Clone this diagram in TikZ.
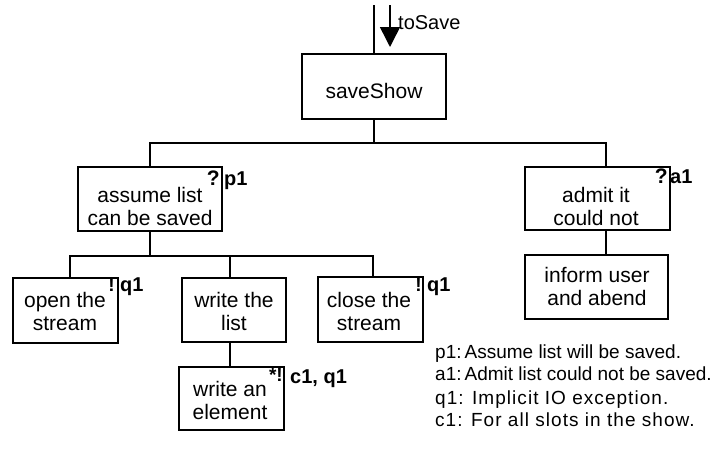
\documentclass[tikz,border=0pt]{standalone}
\usepackage{fontspec}
\setmainfont{Liberation Sans}
\usetikzlibrary{arrows.meta}
\begin{document}
\begin{tikzpicture}[x=1pt,y=-1pt,
  box/.style={draw, line width=2pt, inner sep=0pt},
  txt/.style={inner sep=0pt, align=center, font=\fontsize{21}{23}\selectfont},
  marker/.style={inner sep=0pt, anchor=base east, font=\fontsize{21}{21}\selectfont\bfseries},
  smallmarker/.style={inner sep=0pt, anchor=base east, font=\fontsize{19}{19}\selectfont\bfseries},
  tag/.style={inner sep=0pt, anchor=base west, font=\fontsize{20}{20}\selectfont\bfseries},
  wire/.style={line width=2pt},
  note/.style={inner sep=0pt, anchor=base west, font=\fontsize{19}{19}\selectfont},
  widenote/.style={note, font=\fontsize{19}{19}\selectfont\addfontfeature{LetterSpace=5.5}}]
\useasboundingbox (0,0) rectangle (719,461);

% boxes
\node[box, minimum width=144pt, minimum height=65pt] (save)   at (374,86.5) {};
\node[box, minimum width=144pt, minimum height=64pt] (assume) at (150,199) {};
\node[box, minimum width=145pt, minimum height=63pt] (admit)  at (597.5,198.5) {};
\node[box, minimum width=143pt, minimum height=64pt] (inform) at (596.5,287) {};
\node[box, minimum width=105pt, minimum height=65pt] (open)   at (65.5,310.5) {};
\node[box, minimum width=104pt, minimum height=64pt] (wlist)  at (234,310) {};
\node[box, minimum width=105pt, minimum height=65pt] (close)  at (370.5,309.5) {};
\node[box, minimum width=105pt, minimum height=63pt] (elem)   at (231.5,398.5) {};

% box texts
\node[txt] (tsave)   at (374,91)  {saveShow};
\node[txt] (tassume) at (150,206) {assume list\\can be saved};
\node[txt] (tadmit)  at (596,206) {admit it\\could not};
\node[txt] (tinform) at (597,286) {inform user\\and abend};
\node[txt] (topen)   at (65,311)  {open the\\stream};
\node[txt] (twlist)  at (234,311) {write the\\list};
\node[txt] (tclose)  at (369,311) {close the\\stream};
\node[txt] (telem)   at (230,400) {write an\\element};

% markers and tags
\node[marker] (m1) at (220,185) {?};
\node[tag] (g1) at (224,185) {p1};
\node[marker] (m2) at (668,183) {?};
\node[tag] (g2) at (670,183) {a1};
\node[smallmarker] (m3) at (115,291) {!};
\node[tag] (g3) at (120,291) {q1};
\node[smallmarker] (m4) at (422,291) {!};
\node[tag] (g4) at (427,291) {q1};
\node[smallmarker] (m5) at (283,381) {*!};
\node[tag] (g5) at (290,383) {c1, q1};

% incoming flow
\coordinate (in) at (374,5);
\draw[wire] (in) -- (save.north);
\coordinate (as) at (390,5);
\coordinate (ae) at (390,47);
\draw[line width=1.5pt, -{Triangle[width=20pt,length=20pt]}] (as) -- (ae);
\node[inner sep=0pt, anchor=base west, font=\fontsize{20}{20}\selectfont] (tosave) at (398,29) {toSave};

% first level
\coordinate (ra) at (606,142.5);
\draw[wire] (save.south) -- (save.south |- ra);
\draw[wire] (assume.north) -- (assume.north |- ra) -- (ra) -- (ra |- admit.north);
\draw[wire] (ra |- admit.south) -- (ra |- inform.north);

% second level
\coordinate (lb) at (70,255.5);
\coordinate (rb) at (373,255.5);
\coordinate (cw) at (230,255.5);
\draw[wire] (assume.south) -- (assume.south |- rb);
\draw[wire] (lb |- open.north) -- (lb) -- (rb) -- (rb |- close.north);
\draw[wire] (cw) -- (cw |- wlist.north);
\draw[wire] (cw |- wlist.south) -- (cw |- elem.north);

% legend
\node[note] (l1) at (435,358) {p1:\hspace{3pt}Assume list will be saved.};
\node[note] (l2) at (435,380) {a1:\hspace{3pt}Admit list could not be saved.};
\node[widenote] (l3) at (435,404) {q1: Implicit IO exception.};
\node[widenote] (l4) at (435,426) {c1: For all slots in the show.};
\end{tikzpicture}
\end{document}
